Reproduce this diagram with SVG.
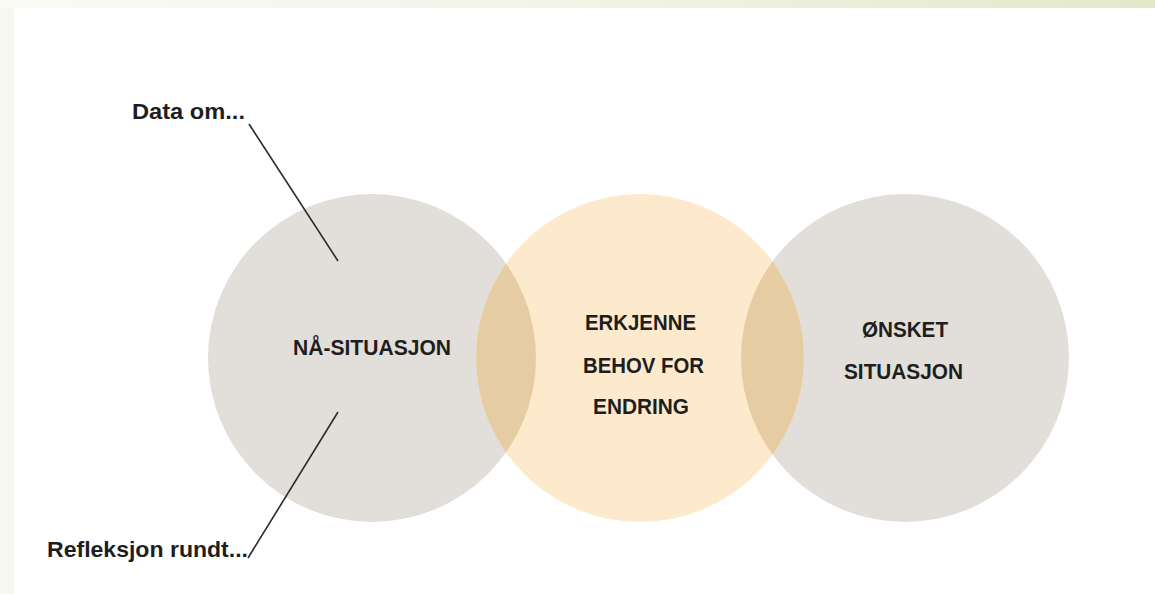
<svg xmlns="http://www.w3.org/2000/svg" width="1155" height="594" viewBox="0 0 1155 594">
  <defs>
    <linearGradient id="topband" x1="0" y1="0" x2="1" y2="0">
      <stop offset="0" stop-color="#fafbf6"/>
      <stop offset="0.5" stop-color="#f1f4e6"/>
      <stop offset="1" stop-color="#e2e9c9"/>
    </linearGradient>
    <clipPath id="clipLeft"><circle cx="372" cy="358" r="164"/></clipPath>
    <clipPath id="clipRight"><circle cx="905" cy="358" r="164"/></clipPath>
  </defs>
  <style>
    .grey { fill: #e2deda; }
    .yellow { fill: #fdeacd; }
    .overlap { fill: #e6cca2; }
    .lbl { font-family: "Liberation Sans", Arial, sans-serif; font-weight: bold; font-size: 22px; fill: #1e1e1e; text-anchor: middle; }
    .note { font-family: "Liberation Sans", Arial, sans-serif; font-weight: bold; font-size: 22px; fill: #1e1e1e; }
    .conn { stroke: #2a2a2a; stroke-width: 1.6; fill: none; }
  </style>
  <rect x="0" y="0" width="1155" height="594" fill="#ffffff"/>
  <rect x="0" y="0" width="1155" height="8" fill="url(#topband)"/>
  <rect x="0" y="8" width="14" height="586" fill="#f6f8f0"/>

  <g id="node-na-situasjon">
    <circle class="grey" cx="372" cy="358" r="164"/>
    <text class="lbl" x="372" y="355" textLength="158" lengthAdjust="spacingAndGlyphs">NÅ-SITUASJON</text>
  </g>
  <g id="node-onsket-situasjon">
    <circle class="grey" cx="905" cy="358" r="164"/>
  </g>
  <g id="node-erkjenne">
    <circle class="yellow" cx="640" cy="358" r="164"/>
    <circle class="overlap" cx="640" cy="358" r="164" clip-path="url(#clipLeft)"/>
    <circle class="overlap" cx="640" cy="358" r="164" clip-path="url(#clipRight)"/>
    <text class="lbl" x="640.5" y="330" textLength="111" lengthAdjust="spacingAndGlyphs">ERKJENNE</text>
    <text class="lbl" x="643.5" y="373" textLength="121" lengthAdjust="spacingAndGlyphs">BEHOV FOR</text>
    <text class="lbl" x="641" y="414" textLength="96" lengthAdjust="spacingAndGlyphs">ENDRING</text>
  </g>
  <g id="node-onsket-labels">
    <text class="lbl" x="905" y="337" textLength="86" lengthAdjust="spacingAndGlyphs">ØNSKET</text>
    <text class="lbl" x="903.5" y="379" textLength="119" lengthAdjust="spacingAndGlyphs">SITUASJON</text>
  </g>

  <g id="connectors">
    <line class="conn" x1="249" y1="124" x2="338" y2="261"/>
    <line class="conn" x1="338" y1="412" x2="248" y2="558"/>
  </g>

  <g id="note-data-om">
    <text class="note" x="132" y="119" textLength="113" lengthAdjust="spacingAndGlyphs">Data om...</text>
  </g>
  <g id="note-refleksjon">
    <text class="note" x="47" y="557" textLength="201" lengthAdjust="spacingAndGlyphs">Refleksjon rundt...</text>
  </g>
</svg>
